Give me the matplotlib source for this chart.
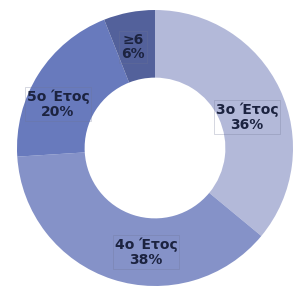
import matplotlib
matplotlib.use("Agg")
import matplotlib.pyplot as plt

categories = ["3o Έτος", "4o Έτος", "5o Έτος", "≥6"]
values = [36, 38, 20, 6]
colors = ["#b3b9d9", "#8592c8", "#687abd", "#53619b"]

fig = plt.figure(figsize=(2.95, 2.9), dpi=100)
ax = fig.add_axes([0, 0, 1, 1])
wedges, _ = ax.pie(values, colors=colors, startangle=90, counterclock=False,
                   radius=1.0, wedgeprops=dict(width=0.49, edgecolor="none"))
R = 138.0
cx, cy = 155.0, 148.0
ax.set_xlim(-cx / R, (295 - cx) / R)
ax.set_ylim(-(290 - cy) / R, cy / R)
ax.set_aspect("auto")
ax.axis("off")

label_pos = [(247, 117), (146, 252), (58, 104), (133, 47)]
for cat, v, (px, py) in zip(categories, values, label_pos):
    x = (px - cx) / R
    y = (cy - py) / R
    ax.text(x, y, f"{cat}\n{v}%", ha="center", va="center", fontsize=10,
            fontweight="bold", color="#1c2340", linespacing=1.05,
            family=["DejaVu Sans"],
            bbox=dict(boxstyle="square,pad=0.15", facecolor="none",
                      edgecolor="#6f7594", linewidth=0.5, alpha=0.4))

fig.savefig("out.png", dpi=100)
